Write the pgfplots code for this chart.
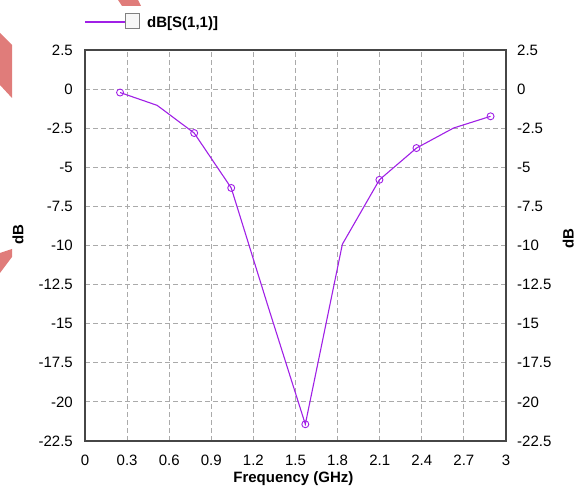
\documentclass[border=0pt]{standalone}
\usepackage{fontspec}
\setmainfont{Liberation Sans}
\usepackage{pgfplots}
\pgfplotsset{compat=1.18}
\definecolor{curve}{RGB}{160,32,230}
\definecolor{deco}{RGB}{224,124,122}
\definecolor{gridc}{RGB}{170,170,170}
\definecolor{framec}{RGB}{70,70,70}
\newcommand{\lblfont}{\fontsize{15}{18}\selectfont}
\pgfplotsset{
  common/.style={
    at={(85pt,45pt)}, anchor=south west, scale only axis,
    width=421pt, height=391pt,
    xmin=0, xmax=3, ymin=-22.5, ymax=2.5,
    ytick={-22.5,-20,-17.5,-15,-12.5,-10,-7.5,-5,-2.5,0,2.5},
    yticklabels={-22.5,-20,-17.5,-15,-12.5,-10,-7.5,-5,-2.5,0,2.5},
    major tick length=0pt,
    tick label style={font=\lblfont, text=black},
    label style={font=\lblfont\bfseries},
  }
}
\begin{document}
\begin{tikzpicture}[x=1pt,y=1pt]
\path[use as bounding box] (0,0) rectangle (576,486);
\fill[deco] (0,453) -- (12,441) -- (12,388) -- (0,401) -- cycle;
\fill[deco] (118,486) -- (138,486) -- (141,480) -- (122,480) -- cycle;
\fill[deco] (0,233) -- (12,237) -- (12,229) -- (0,213) -- cycle;
\begin{axis}[common,
  xtick={0,0.3,0.6,0.9,1.2,1.5,1.8,2.1,2.4,2.7,3},
  xticklabels={0,0.3,0.6,0.9,1.2,1.5,1.8,2.1,2.4,2.7,3},
  grid=major,
  major grid style={gridc, dash pattern=on 4.5pt off 3.5pt, line width=0.9pt},
  axis line style={framec, line width=1.4pt},
  yticklabel style={anchor=east, inner sep=0pt, xshift=-12pt},
  xticklabel style={anchor=north, inner sep=0pt, yshift=-14pt},
  xlabel={Frequency (GHz)},
  xlabel style={at={(axis description cs:0.495,-0.107)}, anchor=base, inner sep=0pt},
  ylabel={dB},
  ylabel style={at={(axis description cs:-0.159,0.528)}, anchor=center, inner sep=0pt},
]
\addplot[curve, line width=1.1pt, mark=o, mark size=3.5pt,
  mark indices={1,3,4,6,8,9,11}, mark options={solid, line width=0.9pt, fill=white}]
  coordinates {
  (0.250,-0.22) (0.514,-1.04) (0.778,-2.81) (1.042,-6.32) (1.306,-13.94)
  (1.570,-21.43) (1.834,-9.92) (2.098,-5.80) (2.362,-3.77) (2.626,-2.49)
  (2.890,-1.74)
  };
\end{axis}
\begin{axis}[common,
  hide x axis,
  axis y line*=right,
  y axis line style={draw=none},
  yticklabel style={anchor=west, inner sep=0pt, xshift=11pt},
  ylabel={dB},
  ylabel style={at={(axis description cs:1.148,0.517)}, anchor=center, inner sep=0pt},
]
\end{axis}
\draw[curve, line width=1.1pt] (85,464) -- (125,464);
\draw[draw={rgb,255:red,128;green,128;blue,128}, line width=1pt, fill=gray!6] (125,457) rectangle (139,472);
\node[anchor=base west, inner sep=0pt, font=\lblfont\bfseries] at (147,458.5) {dB[S(1,1)]};
\end{tikzpicture}
\end{document}
